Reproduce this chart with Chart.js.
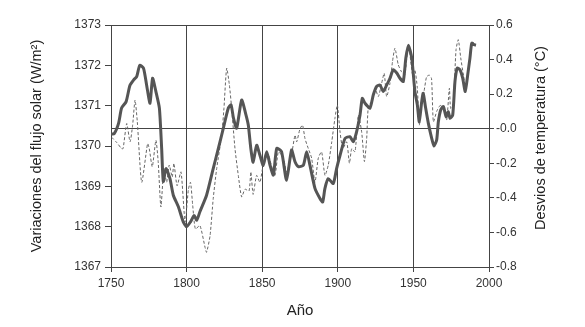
<!DOCTYPE html>
<html>
<head>
<meta charset="utf-8">
<script src="https://cdn.jsdelivr.net/npm/chart.js@4"></script>
<style>
  body { margin: 0; background: #fff; }
  canvas { display: block; }
</style>
</head>
<body>
<canvas id="c" width="585" height="327"></canvas>
<script>
// solar flux (thick line)
const solarYears = [1750, 1752, 1755, 1757, 1760, 1762.5, 1765, 1767, 1769, 1771.5, 1773.6, 1775.8, 1777.5, 1779.7, 1782, 1783.5, 1784.6, 1786.4, 1789, 1791.2, 1794.5, 1797.8, 1800, 1802.6, 1805, 1806.7, 1808.8, 1813.2, 1817.6, 1821, 1824.3, 1827.6, 1829.4, 1831, 1833.1, 1836.4, 1839, 1840.8, 1842.5, 1844, 1846.3, 1848.5, 1850.7, 1853, 1855.2, 1857.4, 1859.6, 1862.8, 1866.1, 1869.4, 1871.7, 1873.9, 1877.2, 1879.4, 1881.6, 1884.9, 1888.2, 1890, 1891.5, 1893.7, 1897, 1899.2, 1901.5, 1904.8, 1908, 1910.3, 1912.5, 1914.7, 1916.2, 1918, 1921.3, 1923.5, 1925.7, 1927.9, 1930.1, 1932.3, 1934.5, 1936.7, 1939, 1941.1, 1943.3, 1945, 1946.7, 1948.9, 1951, 1952.6, 1953.9, 1955.5, 1956.5, 1958.1, 1959.9, 1962.1, 1963.6, 1965.4, 1966.5, 1968.1, 1969.8, 1971.6, 1973.1, 1974.2, 1976, 1977.5, 1979, 1980.8, 1982.6, 1984.3, 1985.9, 1987.4, 1988.6, 1990.1, 1991.4];
const solarFlux = [1370.3, 1370.3, 1370.56, 1370.94, 1371.1, 1371.5, 1371.64, 1371.72, 1372.0, 1371.93, 1371.5, 1371.06, 1371.68, 1371.35, 1370.94, 1369.94, 1369.12, 1369.44, 1369.19, 1368.78, 1368.5, 1368.12, 1368.0, 1368.12, 1368.28, 1368.16, 1368.37, 1368.78, 1369.44, 1369.94, 1370.44, 1370.94, 1371.02, 1370.69, 1370.44, 1371.14, 1370.81, 1370.52, 1369.93, 1369.6, 1370.02, 1369.77, 1369.52, 1369.86, 1369.52, 1369.28, 1369.94, 1369.86, 1369.15, 1369.9, 1369.61, 1369.49, 1369.52, 1369.86, 1369.52, 1368.95, 1368.7, 1368.61, 1368.95, 1369.19, 1369.07, 1369.44, 1369.77, 1370.19, 1370.23, 1370.11, 1370.36, 1370.77, 1371.18, 1371.06, 1370.94, 1371.27, 1371.48, 1371.51, 1371.35, 1371.51, 1371.68, 1371.89, 1371.81, 1371.68, 1371.6, 1372.18, 1372.5, 1372.18, 1371.35, 1371.02, 1370.6, 1371.1, 1371.31, 1370.94, 1370.56, 1370.19, 1370.0, 1370.15, 1370.6, 1370.9, 1370.98, 1370.73, 1370.85, 1370.69, 1370.77, 1371.6, 1371.93, 1371.89, 1371.68, 1371.35, 1371.76, 1372.18, 1372.55, 1372.51, 1372.5];

// temperature deviation (thin dashed line)
const tempYears = [1750.5, 1753.8, 1757, 1758, 1760.4, 1762.6, 1764.3, 1765.9, 1767.4, 1770.3, 1774.2, 1775.3, 1777.3, 1779.7, 1781.2, 1783, 1785, 1786.8, 1788.5, 1790.5, 1791.6, 1793.7, 1796.3, 1799, 1801.2, 1802.6, 1804, 1805.8, 1808.8, 1812.2, 1813.2, 1815.5, 1817.6, 1819.9, 1823.2, 1824.7, 1826.5, 1828.3, 1829.8, 1832, 1834.2, 1836.4, 1838.6, 1841.3, 1842.5, 1844, 1846.3, 1848.5, 1850.7, 1854, 1856, 1858.5, 1860.7, 1864, 1866.1, 1869.4, 1871.7, 1872.8, 1875, 1876.7, 1878.3, 1880.5, 1882.7, 1884.9, 1887.1, 1889.3, 1891.5, 1893.7, 1896, 1898.1, 1899.7, 1901.5, 1903.3, 1905.9, 1907.7, 1909.2, 1911.4, 1913.6, 1915.8, 1917.6, 1919.1, 1920.2, 1922.4, 1924.6, 1926.8, 1929, 1930.7, 1932.3, 1934.5, 1936.2, 1937.8, 1940, 1942.1, 1944.3, 1946.7, 1949.5, 1951, 1952.6, 1953.9, 1955.5, 1957, 1958.7, 1960.5, 1962, 1963.2, 1965.4, 1967, 1968.6, 1970.2, 1972, 1973.8, 1974.6, 1976.3, 1978.2, 1979.7, 1981.3, 1983.1, 1984.6, 1986.3, 1987.9, 1989.2, 1990.7];
const tempDev = [-0.05, -0.08, -0.115, -0.115, 0.03, -0.076, 0.02, 0.166, 0.04, -0.31, -0.086, -0.115, -0.22, -0.067, -0.19, -0.453, -0.23, -0.31, -0.21, -0.28, -0.2, -0.33, -0.25, -0.54, -0.35, -0.31, -0.44, -0.58, -0.56, -0.686, -0.715, -0.62, -0.405, -0.23, -0.037, 0.118, 0.35, 0.253, 0.118, -0.115, -0.27, -0.395, -0.35, -0.36, -0.25, -0.38, -0.27, -0.31, -0.21, -0.15, -0.21, -0.27, -0.134, -0.17, -0.25, -0.15, -0.037, -0.076, 0.0, 0.02, -0.057, -0.115, -0.17, -0.31, -0.17, -0.134, -0.27, -0.21, -0.076, 0.06, 0.137, -0.02, -0.115, -0.076, -0.2, -0.115, -0.134, 0.079, -0.02, -0.19, -0.057, 0.128, 0.157, 0.234, 0.186, 0.263, 0.321, 0.186, 0.263, 0.39, 0.466, 0.37, 0.33, 0.31, 0.486, 0.31, 0.34, 0.234, 0.02, 0.176, 0.215, 0.3, 0.31, 0.29, 0.04, 0.1, 0.128, 0.137, 0.11, 0.05, 0.234, 0.118, 0.137, 0.457, 0.515, 0.41, 0.31, 0.234, 0.33, 0.466, 0.505, 0.48];

const axisColor = "#444";
const textColor = "#333";
const rightTitle = "Desvios de temperatura (°C)";

// right axis title reads bottom-to-top like the left one
const rightTitlePlugin = {
    id: "rightTitle",
    afterDraw(chart) {
        const ctx = chart.ctx;
        const a = chart.chartArea;
        ctx.save();
        ctx.translate(541, (a.top + a.bottom) / 2 - 8);
        ctx.rotate(-Math.PI / 2);
        ctx.fillStyle = "#222";
        ctx.font = "14.5px 'Liberation Sans'";
        ctx.textAlign = "center";
        ctx.textBaseline = "middle";
        ctx.fillText(rightTitle, 0, 0);
        ctx.restore();
    }
};

new Chart(document.getElementById("c"), {
    type: "line",
    data: {
        datasets: [{
            data: solarYears.map((x, i) => ({ x: x, y: solarFlux[i] })),
            yAxisID: "y",
            borderColor: "#555",
            borderWidth: 3,
            pointRadius: 0,
            tension: 0.2
        }, {
            data: tempYears.map((x, i) => ({ x: x, y: tempDev[i] })),
            yAxisID: "y2",
            borderColor: "#666",
            borderWidth: 1,
            borderDash: [3, 2],
            pointRadius: 0,
            tension: 0.2
        }]
    },
    options: {
        responsive: false,
        animation: false,
        layout: { padding: { top: 25, left: 0, right: 0, bottom: 0 } },
        plugins: { legend: { display: false }, tooltip: { enabled: false } },
        scales: {
            x: {
                type: "linear",
                min: 1750, max: 2000,
                afterFit: s => { s.height = 60; },
                ticks: { stepSize: 50, color: textColor, font: { family: "Liberation Sans", size: 12 }, padding: 4,
                         callback: v => String(v), maxRotation: 0 },
                grid: { color: axisColor, tickColor: axisColor, tickLength: 5, lineWidth: 1 },
                border: { color: axisColor },
                title: { display: true, text: "Año", color: "#222", font: { family: "Liberation Sans", size: 15 },
                         padding: { top: 0, bottom: 7 } }
            },
            y: {
                position: "left",
                min: 1367, max: 1373,
                afterFit: s => { s.width = 111; },
                ticks: { stepSize: 1, color: textColor, font: { family: "Liberation Sans", size: 12 }, padding: 4,
                         callback: v => String(v) },
                grid: { drawOnChartArea: false, tickColor: axisColor, tickLength: 6 },
                border: { color: axisColor },
                title: { display: true, text: "Variaciones del flujo solar (W/m²)", color: "#222",
                         font: { family: "Liberation Sans", size: 14.5 }, padding: { top: 28, bottom: 0 } }
            },
            y2: {
                position: "right",
                min: -0.8, max: 0.6,
                afterFit: s => { s.width = 96; },
                ticks: { stepSize: 0.2, color: textColor, font: { family: "Liberation Sans", size: 12 }, padding: 2,
                         callback: v => v.toFixed(1) },
                grid: {
                    color: c => (Math.abs(c.tick.value) < 1e-6 || Math.abs(c.tick.value - 0.6) < 1e-6) ? axisColor : "rgba(0,0,0,0)",
                    tickColor: axisColor, tickLength: 5
                },
                border: { color: axisColor },
                title: { display: false }
            }
        }
    },
    plugins: [rightTitlePlugin]
});
</script>
</body>
</html>
